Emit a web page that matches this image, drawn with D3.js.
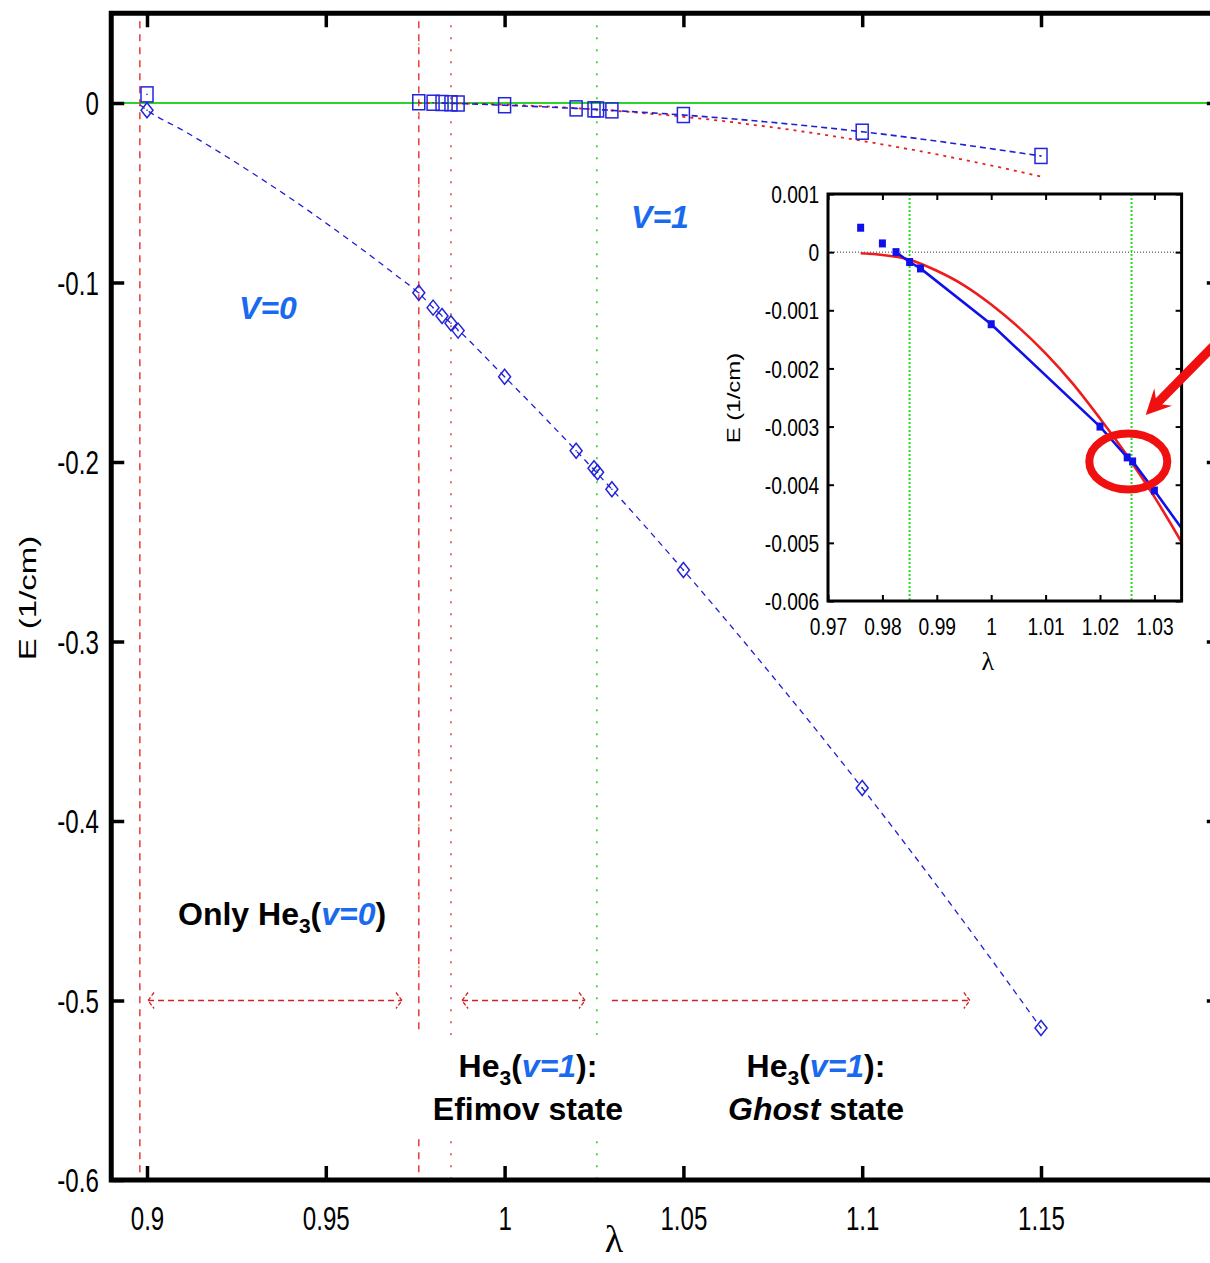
<!DOCTYPE html>
<html><head><meta charset="utf-8">
<script src="https://cdn.jsdelivr.net/npm/d3@7"></script>
<style>body{margin:0;background:#fff}svg{display:block}</style>
</head><body><svg id="c" width="1210" height="1263"></svg>
<script>
// ---------- DATA ----------
const xTicks = [0.9, 0.95, 1, 1.05, 1.1, 1.15];
const xTickLabels = ["0.9", "0.95", "1", "1.05", "1.1", "1.15"];
const yTicks = [0, -0.1, -0.2, -0.3, -0.4, -0.5, -0.6];
const yTickLabels = ["0", "-0.1", "-0.2", "-0.3", "-0.4", "-0.5", "-0.6"];

// v=0 state (diamonds)
const lambdaV0 = [0.9, 0.976, 0.98, 0.9825, 0.985, 0.987, 1.0, 1.02, 1.025, 1.026, 1.03, 1.05, 1.1, 1.15];
const energyV0 = [-0.004, -0.1057, -0.114, -0.1187, -0.1227, -0.1268, -0.1525, -0.1937, -0.2035, -0.2057, -0.2152, -0.2602, -0.3816, -0.5153];
// v=0 fitted dashed curve
const fitLambdaV0 = [0.898, 0.9, 0.91, 0.92, 0.93, 0.94, 0.95, 0.96, 0.97, 0.976, 0.98, 0.985, 1.0, 1.02, 1.03, 1.05, 1.075, 1.1, 1.125, 1.15];
const fitEnergyV0 = [-0.001, -0.004, -0.0152, -0.0271, -0.0397, -0.0529, -0.0668, -0.0813, -0.0965, -0.1059, -0.114, -0.1227, -0.1525, -0.1937, -0.2152, -0.2602, -0.3195, -0.3816, -0.447, -0.5153];

// v=1 state (squares)
const lambdaV1 = [0.9, 0.976, 0.98, 0.9825, 0.985, 0.987, 1.0, 1.02, 1.025, 1.026, 1.03, 1.05, 1.1, 1.15];
const energyV1 = [0.0048, 0.00042, 0.00015, 0.0, -0.00017, -0.00028, -0.00124, -0.0030, -0.00353, -0.0036, -0.0041, -0.0067, -0.0160, -0.0295];
const lineStartV1 = 0.9825;

// red reference curve
const lambdaRed = [0.976, 0.98, 0.985, 0.99, 0.995, 1.0, 1.005, 1.01, 1.015, 1.02, 1.025, 1.03, 1.035, 1.04, 1.05, 1.06, 1.07, 1.08, 1.09, 1.1, 1.11, 1.12, 1.13, 1.14, 1.15];
const energyRed = [-0.00002, -0.00005, -0.00013, -0.00032, -0.00057, -0.0009, -0.00129, -0.00174, -0.00226, -0.00286, -0.0035, -0.00421, -0.00499, -0.00584, -0.0077, -0.0098, -0.0123, -0.0149, -0.0179, -0.0211, -0.0246, -0.0283, -0.0323, -0.0365, -0.0410];

// vertical markers
const redDashedLambda = [0.898, 0.976];
const redDottedLambda = [0.985];
const greenDottedLambda = [1.0258];
const insetGreenLambda = [0.985, 1.0258];

// range arrows at E = -0.5
const arrowE = -0.5;
const arrowFrom = [0.9003, 0.9881, 1.030];
const arrowTo   = [0.9713, 1.0225, 1.1301];
const arrowBoth = [true, true, false];

// inset axes
const insetXTicks = [0.97, 0.98, 0.99, 1, 1.01, 1.02, 1.03];
const insetXLabels = ["0.97", "0.98", "0.99", "1", "1.01", "1.02", "1.03"];
const insetYTicks = [0.001, 0, -0.001, -0.002, -0.003, -0.004, -0.005, -0.006];
const insetYLabels = ["0.001", "0", "-0.001", "-0.002", "-0.003", "-0.004", "-0.005", "-0.006"];

// ---------- DRAW ----------
const svg = d3.select("#c");
const FONT = "'Liberation Sans', Arial, Helvetica, sans-serif";
const x = d3.scaleLinear().domain([0.89, 1.2]).range([111.24, 1219.8]);
const y = d3.scaleLinear().domain([-0.6, 0.05]).range([1180, 13.25]);

const xi = d3.scaleLinear().domain([0.97, 1.035]).range([828, 1181.6]);
const yi = d3.scaleLinear().domain([-0.006, 0.001]).range([601, 194]);

const defs = svg.append("defs");
defs.append("clipPath").attr("id", "clipMain").append("rect")
  .attr("x", x(0.89)).attr("y", y(0.05)).attr("width", x(1.2) - x(0.89)).attr("height", y(-0.6) - y(0.05));
defs.append("clipPath").attr("id", "clipInset").append("rect")
  .attr("x", xi(0.97)).attr("y", yi(0.001)).attr("width", xi(1.035) - xi(0.97)).attr("height", yi(-0.006) - yi(0.001));

const main = svg.append("g").attr("clip-path", "url(#clipMain)");

// zero line
main.append("line").attr("x1", x(0.89)).attr("x2", x(1.2)).attr("y1", y(0)).attr("y2", y(0))
  .attr("stroke", "#2ad42a").attr("stroke-width", 2);

// vertical lines
main.selectAll(".vrd").data(redDashedLambda).join("line")
  .attr("x1", d => x(d)).attr("x2", d => x(d)).attr("y1", y(0.05) + 8).attr("y2", y(-0.6))
  .attr("stroke", "#e64646").attr("stroke-width", 1.6).attr("stroke-dasharray", "7,6");
main.selectAll(".vro").data([redDashedLambda[1]]).join("line")
  .attr("x1", d => x(d)).attr("x2", d => x(d)).attr("y1", y(0.05)).attr("y2", y(-0.6))
  .attr("stroke", "#f0a060").attr("stroke-width", 1.6).attr("stroke-dasharray", "2,69").attr("stroke-dashoffset", -30);
main.selectAll(".vrt").data(redDottedLambda).join("line")
  .attr("x1", d => x(d)).attr("x2", d => x(d)).attr("y1", y(0.05)).attr("y2", y(-0.6))
  .attr("stroke", "#e06060").attr("stroke-width", 1.8).attr("stroke-dasharray", "2,10");
main.selectAll(".vg").data(greenDottedLambda).join("line")
  .attr("x1", d => x(d)).attr("x2", d => x(d)).attr("y1", y(0.05)).attr("y2", y(-0.6))
  .attr("stroke", "#3ad83a").attr("stroke-width", 1.8).attr("stroke-dasharray", "2,10");

// curves
const lineMain = d3.line().x(d => x(d[0])).y(d => y(d[1])).curve(d3.curveMonotoneX);
const fitV0 = fitLambdaV0.map((l, i) => [l, fitEnergyV0[i]]);
const ptsV0 = lambdaV0.map((l, i) => [l, energyV0[i]]);
const ptsV1 = lambdaV1.map((l, i) => [l, energyV1[i]]);
const redPts = lambdaRed.map((l, i) => [l, energyRed[i]]);
const lineV1 = ptsV1.filter(d => d[0] >= lineStartV1);

main.append("path").attr("d", lineMain(redPts)).attr("fill", "none")
  .attr("stroke", "#e82020").attr("stroke-width", 1.8).attr("stroke-dasharray", "3,5");
main.append("path").attr("d", lineMain(fitV0)).attr("fill", "none")
  .attr("stroke", "#1f1fd6").attr("stroke-width", 1.3).attr("stroke-dasharray", "6,5");
main.append("path").attr("d", lineMain(lineV1)).attr("fill", "none")
  .attr("stroke", "#1f1fd6").attr("stroke-width", 1.6).attr("stroke-dasharray", "6,4");

// markers
const mk = main.append("g").attr("stroke", "#2424dc").attr("fill", "none").attr("stroke-width", 1.5);
mk.selectAll(".dia").data(ptsV0).join("path")
  .attr("d", d => { const cx = x(d[0]), cy = y(d[1]); return `M${cx},${cy - 7.5}L${cx + 6},${cy}L${cx},${cy + 7.5}L${cx - 6},${cy}Z`; });
mk.selectAll(".sq").data(ptsV1).join("rect")
  .attr("x", d => x(d[0]) - 6).attr("y", d => y(d[1]) - 7.5).attr("width", 12).attr("height", 15);
main.selectAll(".dot").data(ptsV0.concat(ptsV1)).join("rect")
  .attr("x", d => x(d[0]) - 0.7).attr("y", d => y(d[1]) - 0.7).attr("width", 1.4).attr("height", 1.4).attr("fill", "#2424dc");

// range arrows
const ag = main.append("g").attr("stroke", "#d42020").attr("stroke-width", 1.3).attr("fill", "none");
arrowFrom.forEach((a, i) => {
  const x1 = x(a), x2 = x(arrowTo[i]), yy = y(arrowE);
  ag.append("line").attr("x1", x1).attr("x2", x2).attr("y1", yy).attr("y2", yy).attr("stroke-dasharray", "6,4");
  ag.append("path").attr("d", `M${x2 - 6},${yy - 8}L${x2},${yy}L${x2 - 6},${yy + 8}`).attr("stroke-dasharray", "4,2");
  if (arrowBoth[i]) ag.append("path").attr("d", `M${x1 + 6},${yy - 8}L${x1},${yy}L${x1 + 6},${yy + 8}`).attr("stroke-dasharray", "4,2");
});

// white box behind Efimov text
svg.append("rect").attr("x", 405).attr("y", 1035).attr("width", 240).attr("height", 100).attr("fill", "#fff");

// texts
const BLUE = "#1a6af0";
const TFS = 32;
function heText(g, cx, cy, v) {
  const t = g.append("text").attr("x", cx).attr("y", cy).attr("text-anchor", "middle")
    .attr("font-family", FONT).attr("font-weight", "bold").attr("font-size", TFS).attr("fill", "#000");
  t.append("tspan").text("He");
  t.append("tspan").attr("font-size", 21).attr("dy", 8).text("3");
  t.append("tspan").attr("dy", -8).text("(");
  t.append("tspan").attr("fill", BLUE).attr("font-style", "italic").text(v);
  t.append("tspan").text("):");
  return t;
}
const tg = svg.append("g");
// Only He3(v=0)
{
  const t = tg.append("text").attr("x", 178).attr("y", 925).attr("font-family", FONT)
    .attr("font-weight", "bold").attr("font-size", TFS).attr("fill", "#000");
  t.append("tspan").text("Only He");
  t.append("tspan").attr("font-size", 21).attr("dy", 8).text("3");
  t.append("tspan").attr("dy", -8).text("(");
  t.append("tspan").attr("fill", BLUE).attr("font-style", "italic").text("v=0");
  t.append("tspan").text(")");
}
heText(tg, 528, 1077, "v=1");
tg.append("text").attr("x", 528).attr("y", 1120).attr("text-anchor", "middle").attr("font-family", FONT)
  .attr("font-weight", "bold").attr("font-size", TFS).text("Efimov state");
heText(tg, 816, 1077, "v=1");
{
  const t = tg.append("text").attr("x", 816).attr("y", 1120).attr("text-anchor", "middle").attr("font-family", FONT)
    .attr("font-weight", "bold").attr("font-size", TFS);
  t.append("tspan").attr("font-style", "italic").text("Ghost");
  t.append("tspan").text(" state");
}
tg.append("text").attr("x", 268).attr("y", 319).attr("text-anchor", "middle").attr("font-family", FONT)
  .attr("font-weight", "bold").attr("font-style", "italic").attr("font-size", TFS).attr("fill", BLUE).text("V=0");
tg.append("text").attr("x", 660).attr("y", 228).attr("text-anchor", "middle").attr("font-family", FONT)
  .attr("font-weight", "bold").attr("font-style", "italic").attr("font-size", TFS).attr("fill", BLUE).text("V=1");

// ---------- INSET ----------
const ins = svg.append("g");
ins.append("rect").attr("x", xi(0.97)).attr("y", yi(0.001)).attr("width", xi(1.035) - xi(0.97)).attr("height", yi(-0.006) - yi(0.001)).attr("fill", "#fff");
const inC = ins.append("g").attr("clip-path", "url(#clipInset)");
inC.append("line").attr("x1", xi(0.97)).attr("x2", xi(1.035)).attr("y1", yi(0)).attr("y2", yi(0))
  .attr("stroke", "#333").attr("stroke-width", 1).attr("stroke-dasharray", "1,2");
inC.selectAll(".ig").data(insetGreenLambda).join("line")
  .attr("x1", d => xi(d)).attr("x2", d => xi(d)).attr("y1", yi(0.001)).attr("y2", yi(-0.006))
  .attr("stroke", "#22dd22").attr("stroke-width", 2).attr("stroke-dasharray", "2,2");
const lineIn = d3.line().x(d => xi(d[0])).y(d => yi(d[1])).curve(d3.curveMonotoneX);
inC.append("path").attr("d", lineIn(redPts.filter(d => d[0] <= 1.04))).attr("fill", "none")
  .attr("stroke", "#ee1c1c").attr("stroke-width", 2.6);
inC.append("path").attr("d", d3.line().x(d => xi(d[0])).y(d => yi(d[1]))(lineV1.filter(d => d[0] <= 1.05))).attr("fill", "none")
  .attr("stroke", "#1010e8").attr("stroke-width", 2.6);
inC.selectAll(".isq").data(ptsV1.filter(d => d[0] >= 0.97 && d[0] <= 1.035)).join("rect")
  .attr("x", d => xi(d[0]) - 3.5).attr("y", d => yi(d[1]) - 4).attr("width", 7).attr("height", 8).attr("fill", "#1010e8");

// inset axes
function styleTicks(sel, fs) {
  sel.select(".domain").remove();
  sel.selectAll(".tick line").attr("stroke", "#000").attr("stroke-width", 2);
  sel.selectAll(".tick text").attr("font-family", FONT).attr("font-size", fs).attr("fill", "#000");
}
const ixB = ins.append("g").attr("transform", `translate(0,${yi(-0.006)})`)
  .call(d3.axisBottom(xi).tickValues(insetXTicks).tickFormat((d, i) => insetXLabels[i]).tickSizeInner(-6).tickSizeOuter(0));
styleTicks(ixB, 24);
ixB.selectAll(".tick text").attr("y", 34).attr("dy", 0).attr("transform", "scale(0.8,1)");
const ixT = ins.append("g").attr("transform", `translate(0,${yi(0.001)})`)
  .call(d3.axisTop(xi).tickValues(insetXTicks).tickFormat("").tickSizeInner(-6).tickSizeOuter(0));
styleTicks(ixT, 10);
const iyL = ins.append("g").attr("transform", `translate(${xi(0.97)},0)`)
  .call(d3.axisLeft(yi).tickValues(insetYTicks).tickFormat((d, i) => insetYLabels[i]).tickSizeInner(-6).tickSizeOuter(0));
styleTicks(iyL, 24);
iyL.selectAll(".tick text").attr("x", -11).attr("dy", "0.36em").attr("transform", "scale(0.8,1)");
const iyR = ins.append("g").attr("transform", `translate(${xi(1.035)},0)`)
  .call(d3.axisRight(yi).tickValues(insetYTicks).tickFormat("").tickSizeInner(-6).tickSizeOuter(0));
styleTicks(iyR, 10);
ins.append("rect").attr("x", xi(0.97)).attr("y", yi(0.001)).attr("width", xi(1.035) - xi(0.97)).attr("height", yi(-0.006) - yi(0.001))
  .attr("fill", "none").attr("stroke", "#000").attr("stroke-width", 3);
ins.append("text").attr("transform", `translate(740,398) rotate(-90) scale(1,0.8)`).attr("text-anchor", "middle")
  .attr("font-family", FONT).attr("font-size", 24).text("E (1/cm)");
ins.append("text").attr("x", (xi(0.97) + xi(1.035)) / 2 - 17).attr("y", 670).attr("text-anchor", "middle")
  .attr("font-family", "'Liberation Serif', 'DejaVu Serif', serif").attr("font-size", 26).text("λ");

// annotation ellipse and arrow (inset data coordinates)
const ellC = [1.0252, -0.00360];
svg.append("ellipse").attr("cx", xi(ellC[0])).attr("cy", yi(ellC[1])).attr("rx", 39).attr("ry", 28)
  .attr("fill", "none").attr("stroke", "#f01010").attr("stroke-width", 8);
{
  const tip = [xi(1.0284), yi(-0.0028)], start = [xi(1.0410), yi(-0.0016)];
  const dx = tip[0] - start[0], dy = tip[1] - start[1], L = Math.hypot(dx, dy);
  const ux = dx / L, uy = dy / L, px = -uy, py = ux;
  const hl = 25, hw = 12.5, sw = 4.5;
  const bx = tip[0] - ux * hl, by = tip[1] - uy * hl;
  const nx = tip[0] - ux * (hl - 6), ny = tip[1] - uy * (hl - 6);
  const pts = [
    [start[0] + px * sw, start[1] + py * sw],
    [nx + px * sw, ny + py * sw],
    [bx + px * hw, by + py * hw],
    tip,
    [bx - px * hw, by - py * hw],
    [nx - px * sw, ny - py * sw],
    [start[0] - px * sw, start[1] - py * sw]
  ];
  svg.append("polygon").attr("points", pts.map(p => p.join(",")).join(" ")).attr("fill", "#f01010");
}

// ---------- MAIN AXES ----------
const ax = svg.append("g");
const xB = ax.append("g").attr("transform", `translate(0,${y(-0.6)})`)
  .call(d3.axisBottom(x).tickValues(xTicks).tickFormat((d, i) => xTickLabels[i]).tickSizeInner(-14).tickSizeOuter(0));
styleTicks(xB, 33);
xB.selectAll(".tick line").attr("stroke-width", 3.5);
xB.selectAll(".tick text").attr("y", 50).attr("dy", 0).attr("transform", "scale(0.73,1)");
const xT = ax.append("g").attr("transform", `translate(0,${y(0.05)})`)
  .call(d3.axisTop(x).tickValues(xTicks).tickFormat("").tickSizeInner(-14).tickSizeOuter(0));
styleTicks(xT, 10);
xT.selectAll(".tick line").attr("stroke-width", 3.5);
const yL = ax.append("g").attr("transform", `translate(${x(0.89)},0)`)
  .call(d3.axisLeft(y).tickValues(yTicks).tickFormat((d, i) => yTickLabels[i]).tickSizeInner(-13).tickSizeOuter(0));
styleTicks(yL, 33);
yL.selectAll(".tick line").attr("stroke-width", 3.5);
yL.selectAll(".tick text").attr("x", -17).attr("dy", "0.36em").attr("transform", "scale(0.73,1)");
const yR = ax.append("g").attr("transform", `translate(${x(1.2)},0)`)
  .call(d3.axisRight(y).tickValues(yTicks).tickFormat("").tickSizeInner(-13).tickSizeOuter(0));
styleTicks(yR, 10);
yR.selectAll(".tick line").attr("stroke-width", 3.5);
ax.append("rect").attr("x", x(0.89)).attr("y", y(0.05)).attr("width", x(1.2) - x(0.89)).attr("height", y(-0.6) - y(0.05))
  .attr("fill", "none").attr("stroke", "#000").attr("stroke-width", 5);

// axis titles
ax.append("text").attr("transform", `translate(36,598) rotate(-90) scale(1,0.73)`).attr("text-anchor", "middle")
  .attr("font-family", FONT).attr("font-size", 33).text("E (1/cm)");
ax.append("text").attr("x", 614).attr("y", 1252).attr("text-anchor", "middle")
  .attr("font-family", "'Liberation Serif', 'DejaVu Serif', serif").attr("font-size", 38).text("λ");
</script></body></html>
